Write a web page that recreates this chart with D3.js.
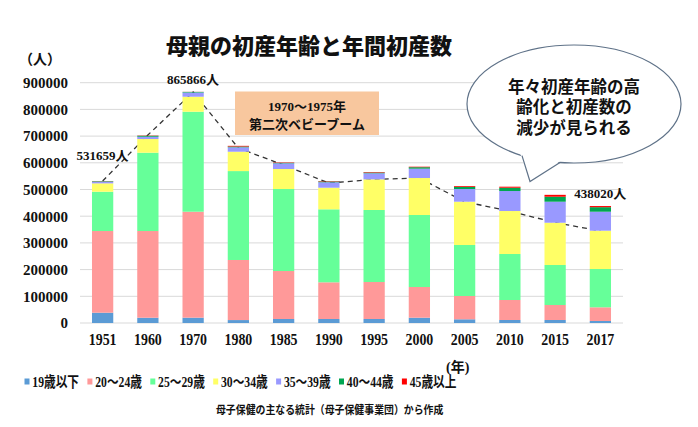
<!DOCTYPE html>
<html>
<head>
<meta charset="utf-8">
<script src="https://cdn.jsdelivr.net/npm/d3@7"></script>
<style>
  body { margin: 0; background: #fff; }
  svg { display: block; }
  text { font-family: "Liberation Serif", "Noto Sans CJK JP", serif; font-weight: bold; fill: #111; }
  .cjk { font-family: "Noto Sans CJK JP", sans-serif; }
</style>
</head>
<body>
<svg id="chart" width="698" height="427"></svg>
<script>
// data
const years = ['1951', '1960', '1970', '1980', '1985', '1990', '1995', '2000', '2005', '2010', '2015', '2017'];
const under19   = [38600, 19800, 20000, 11000, 15000, 15000, 15000, 19900, 13900, 11200, 11200, 7500];
const age20to24 = [305900, 324700, 396800, 225000, 179700, 137400, 138500, 114900, 87200, 74900, 56200, 51300];
const age25to29 = [147200, 293300, 374500, 333000, 307100, 273400, 269700, 269700, 191000, 172300, 149800, 143400];
const age30to34 = [31300, 51200, 56200, 72500, 74900, 80900, 114900, 138500, 162200, 161000, 158400, 143500];
const age35to39 = [6000, 8700, 15800, 16500, 21300, 20300, 22500, 35000, 47500, 74900, 78700, 71100];
const age40to44 = [2000, 3500, 2200, 3000, 2000, 3000, 3000, 5500, 8000, 12400, 18700, 17000];
const age45over = [659, 1000, 366, 2500, 1500, 1500, 1900, 1900, 3000, 3800, 7000, 4220];
const trendLine = [531659, 704000, 865000, 655000, 592000, 524000, 538000, 543000, 454000, 419000, 376000, 345000];

const seriesNames = ['19歳以下', '20～24歳', '25～29歳', '30～34歳', '35～39歳', '40～44歳', '45歳以上'];
const seriesColors = ['#5B9BD5', '#FF9999', '#66FF99', '#FFFF66', '#9999FF', '#00A651', '#FF0000'];
const yTicks = [0, 100000, 200000, 300000, 400000, 500000, 600000, 700000, 800000, 900000];
const labelYears = ['1951', '1970', '2017'];

const svg = d3.select('#chart');
const plotLeft = 80, plotRight = 623, plotTop = 82.7, plotBottom = 323;

const allSeries = [under19, age20to24, age25to29, age30to34, age35to39, age40to44, age45over];
const rows = years.map((yr, i) => {
  const row = {year: yr};
  allSeries.forEach((s, k) => { row[k] = s[i]; });
  return row;
});
const totals = years.map((yr, i) => d3.sum(allSeries, s => s[i]));

const x = d3.scaleBand().domain(years).range([plotLeft, plotRight]).paddingInner(0.53).paddingOuter(0.265);
const y = d3.scaleLinear().domain([0, 900000]).range([plotBottom, plotTop]);

// gridlines
svg.append('g')
  .selectAll('line')
  .data(yTicks)
  .enter()
  .append('line')
    .attr('x1', plotLeft).attr('x2', plotRight)
    .attr('y1', d => y(d)).attr('y2', d => y(d))
    .attr('stroke', '#D9D9D9').attr('stroke-width', 1);

// y axis labels
const yAxis = svg.append('g')
  .attr('transform', `translate(${plotLeft},0)`)
  .call(d3.axisLeft(y).tickValues(yTicks).tickSize(0).tickPadding(12).tickFormat(d3.format('d')));
yAxis.select('.domain').remove();
yAxis.selectAll('text').style('font-size', '15px').attr('fill', '#111');

// x axis labels
const xAxis = svg.append('g')
  .attr('transform', `translate(0,${plotBottom})`)
  .call(d3.axisBottom(x).tickSize(0));
xAxis.select('.domain').remove();
xAxis.selectAll('text')
  .attr('dy', null).attr('y', 22)
  .attr('transform', 'scale(0.82,1)')
  .style('font-size', '17px').attr('fill', '#111');

// dashed trend line (behind the bars)
svg.append('path')
  .datum(trendLine)
  .attr('d', d3.line().x((d, i) => x(years[i]) + x.bandwidth() / 2).y(d => y(d)))
  .attr('fill', 'none')
  .attr('stroke', '#333')
  .attr('stroke-width', 1.3)
  .attr('stroke-dasharray', '5,4');

// stacked bars
const stacked = d3.stack().keys(d3.range(allSeries.length))(rows);
svg.append('g')
  .selectAll('g')
  .data(stacked)
  .enter()
  .append('g')
    .attr('fill', (d, i) => seriesColors[i])
  .selectAll('rect')
  .data(d => d)
  .enter()
  .append('rect')
    .attr('x', d => x(d.data.year))
    .attr('width', x.bandwidth())
    .attr('y', d => y(d[1]))
    .attr('height', d => y(d[0]) - y(d[1]));

// total labels
svg.append('g')
  .selectAll('text')
  .data(labelYears)
  .enter()
  .append('text')
    .attr('x', d => x(d) + x.bandwidth() / 2)
    .attr('y', d => y(totals[years.indexOf(d)]) - (d === '1951' ? 21 : 8))
    .attr('text-anchor', 'middle')
    .style('font-size', '13px')
    .text(d => totals[years.indexOf(d)] + '人');

// title and unit
svg.append('text')
  .attr('class', 'cjk')
  .attr('x', 309).attr('y', 54)
  .attr('text-anchor', 'middle')
  .style('font-size', '22px').style('font-weight', 900)
  .text('母親の初産年齢と年間初産数');

svg.append('text')
  .attr('x', 19).attr('y', 64)
  .style('font-size', '14px')
  .text('（人）');

// baby boom note
svg.append('rect')
  .attr('x', 235).attr('y', 91.5).attr('width', 144).attr('height', 43.5)
  .attr('fill', '#F8C79E');
svg.append('text')
  .attr('x', 307).attr('y', 111)
  .attr('text-anchor', 'middle')
  .style('font-size', '13px')
  .text('1970～1975年');
svg.append('text')
  .attr('x', 307).attr('y', 129)
  .attr('text-anchor', 'middle')
  .style('font-size', '13px')
  .text('第二次ベビーブーム');

// speech bubble
const bubble = svg.append('g');
bubble.append('ellipse')
  .attr('cx', 574).attr('cy', 104).attr('rx', 107).attr('ry', 59)
  .attr('fill', '#fff').attr('stroke', '#5F7288').attr('stroke-width', 1.2);
bubble.append('path')
  .attr('d', 'M520,153 L530,181.5 L562,160 Z')
  .attr('fill', '#fff');
bubble.append('path')
  .attr('d', 'M522,155.6 L530,181.5 L560,162.5')
  .attr('fill', 'none').attr('stroke', '#5F7288').attr('stroke-width', 1.2);
['年々初産年齢の高', '齢化と初産数の', '減少が見られる'].forEach((t, i) => {
  bubble.append('text')
    .attr('x', 574).attr('y', 93 + i * 20.3)
    .attr('text-anchor', 'middle')
    .style('font-size', '16.5px')
    .text(t);
});

// legend
const legend = svg.append('g')
  .selectAll('g')
  .data(seriesNames)
  .enter()
  .append('g')
    .attr('transform', (d, i) => `translate(${24.5 + i * 62.9},381.5)`);
legend.append('rect')
  .attr('x', 0).attr('y', -3).attr('width', 5).attr('height', 6)
  .attr('fill', (d, i) => seriesColors[i]);
legend.append('text')
  .attr('x', 8).attr('y', 5.5)
  .attr('transform', 'scale(0.78,1)')
  .attr('dx', 2)
  .style('font-size', '15px')
  .text(d => d);

svg.append('text')
  .attr('x', 446).attr('y', 372)
  .style('font-size', '14px')
  .text('(年)');

svg.append('text')
  .attr('x', 216).attr('y', 414)
  .attr('transform', 'translate(216,0) scale(0.86,1) translate(-216,0)')
  .style('font-size', '11.5px')
  .text('母子保健の主なる統計（母子保健事業団）から作成');
</script>
</body>
</html>
